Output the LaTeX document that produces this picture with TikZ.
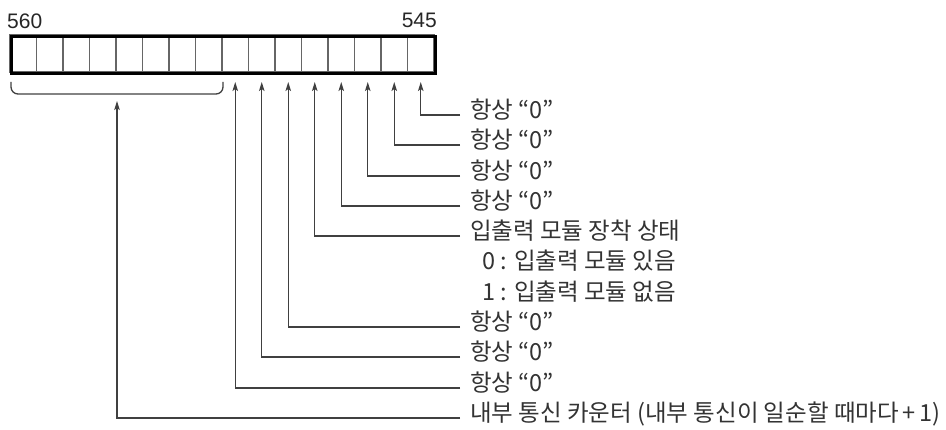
\documentclass[tikz,border=0pt]{standalone}
\usepackage{fontspec}
\newfontfamily\kr{Noto Sans CJK KR}
\newfontfamily\lat{Liberation Sans}
\usetikzlibrary{arrows.meta}
\begin{document}
\begin{tikzpicture}[x=1pt,y=-1pt,
  lbl/.style={font=\kr\fontsize{23.5}{24}\selectfont, anchor=west, inner xsep=10pt, inner ysep=0pt,
    text height=0.8em, text depth=0.08em, text=black!80},
  sub/.style={font=\kr\fontsize{23.5}{24}\selectfont, anchor=west, inner sep=0pt,
    text height=0.8em, text depth=0.08em, text=black!80},
  num/.style={font=\lat\fontsize{21}{22}\selectfont, inner sep=0pt, text=black!85},
  cell/.style={draw=black!60, line width=1.3pt, minimum width=26.5pt, minimum height=37pt, inner sep=0pt},
  conn/.style={draw=black!75, line width=1.3pt, -{Stealth[length=9pt,width=5.5pt,inset=2pt]}},
  bracket/.style={draw=black!75, line width=1.3pt, rounded corners=7pt}]
\useasboundingbox (0,0) rectangle (946,430);
% register cells
\foreach \i in {0,...,15} {
  \node[cell] (c\i) at ({10+26.5*(\i+0.5)},53.5) {};
  \coordinate (t\i) at ({10+26.5*(\i+0.5)},82);
}
\node[draw=black, line width=2.8pt, minimum width=424pt, minimum height=37pt, inner sep=0pt, anchor=north west] (reg) at (10,35) {};
\node[num, anchor=west] (n560) at (7,21.5) {560};
\node[num, anchor=east] (n545) at (437,20.5) {545};
% bracket over upper 8 bits
\draw[bracket] (11,82) -- (11,94) -- (223,94) -- (223,82);
\coordinate (brace) at (117,101);
% labels
\node[lbl] (l0) at (460,115) {항상 “0”};
\node[lbl] (l1) at (460,145) {항상 “0”};
\node[lbl] (l2) at (460,176) {항상 “0”};
\node[lbl] (l3) at (460,206) {항상 “0”};
\node[lbl] (l4) at (460,236) {입출력 모듈 장착 상태};
\node[sub] (s0) at (482,266) {0 : 입출력 모듈 있음};
\node[sub] (s1) at (482,297) {1 : 입출력 모듈 없음};
\node[lbl] (l7) at (460,327) {항상 “0”};
\node[lbl] (l8) at (460,357) {항상 “0”};
\node[lbl] (l9) at (460,388) {항상 “0”};
\node[lbl] (l10) at (460,418) {내부 통신 카운터 (내부 통신이 일순할 때마다\,+\,1)};
% connectors
\draw[conn] (l0.west) -| (t15);
\draw[conn] (l1.west) -| (t14);
\draw[conn] (l2.west) -| (t13);
\draw[conn] (l3.west) -| (t12);
\draw[conn] (l4.west) -| (t11);
\draw[conn] (l7.west) -| (t10);
\draw[conn] (l8.west) -| (t9);
\draw[conn] (l9.west) -| (t8);
\draw[conn] (l10.west) -| (brace);
\end{tikzpicture}
\end{document}
